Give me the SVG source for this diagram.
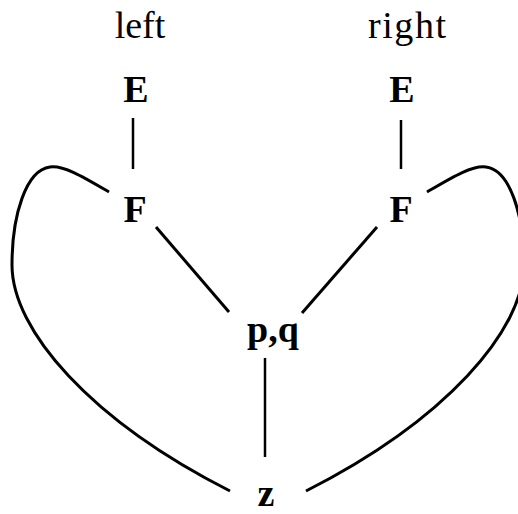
<svg xmlns="http://www.w3.org/2000/svg" width="518" height="514" viewBox="0 0 518 514">
<style>
.t{font-family:"Liberation Serif","DejaVu Serif",serif;font-size:38px;fill:#000;text-anchor:middle}
.b{font-weight:bold}
.e{fill:none;stroke:#000;stroke-linecap:butt}
.s{stroke-width:2.5}
.c{stroke-width:3}
</style>
<rect width="518" height="514" fill="#fff"/>
<g id="label-left"><text class="t" x="140" y="38">left</text></g>
<g id="label-right"><text class="t" x="407" y="38" textLength="78" lengthAdjust="spacing">right</text></g>
<g id="node-E-left"><text class="t b" x="136" y="102">E</text></g>
<g id="node-E-right"><text class="t b" x="402" y="102">E</text></g>
<g id="node-F-left"><text class="t b" x="135" y="222">F</text></g>
<g id="node-F-right"><text class="t b" x="401" y="222">F</text></g>
<g id="node-pq"><text class="t b" x="273" y="342">p,q</text></g>
<g id="node-z"><text class="t b" x="266" y="506">z</text></g>
<g id="connectors">
<line class="e s" x1="133" y1="118" x2="133" y2="169"/>
<line class="e s" x1="401" y1="120" x2="401" y2="169"/>
<line class="e c" x1="156" y1="227" x2="229" y2="312"/>
<line class="e c" x1="377" y1="227" x2="302" y2="313"/>
<line class="e s" x1="265" y1="358" x2="265" y2="457"/>
<path class="e c" d="M109,192 C85,178 64,165 50,167 C26,170 12,215 12,265 C12,330 90,420 230,491"/>
<path class="e c" d="M427,192 C451,178 472,165 486,167 C510,170 524,215 524,265 C524,330 446,420 306,491"/>
</g>
</svg>
